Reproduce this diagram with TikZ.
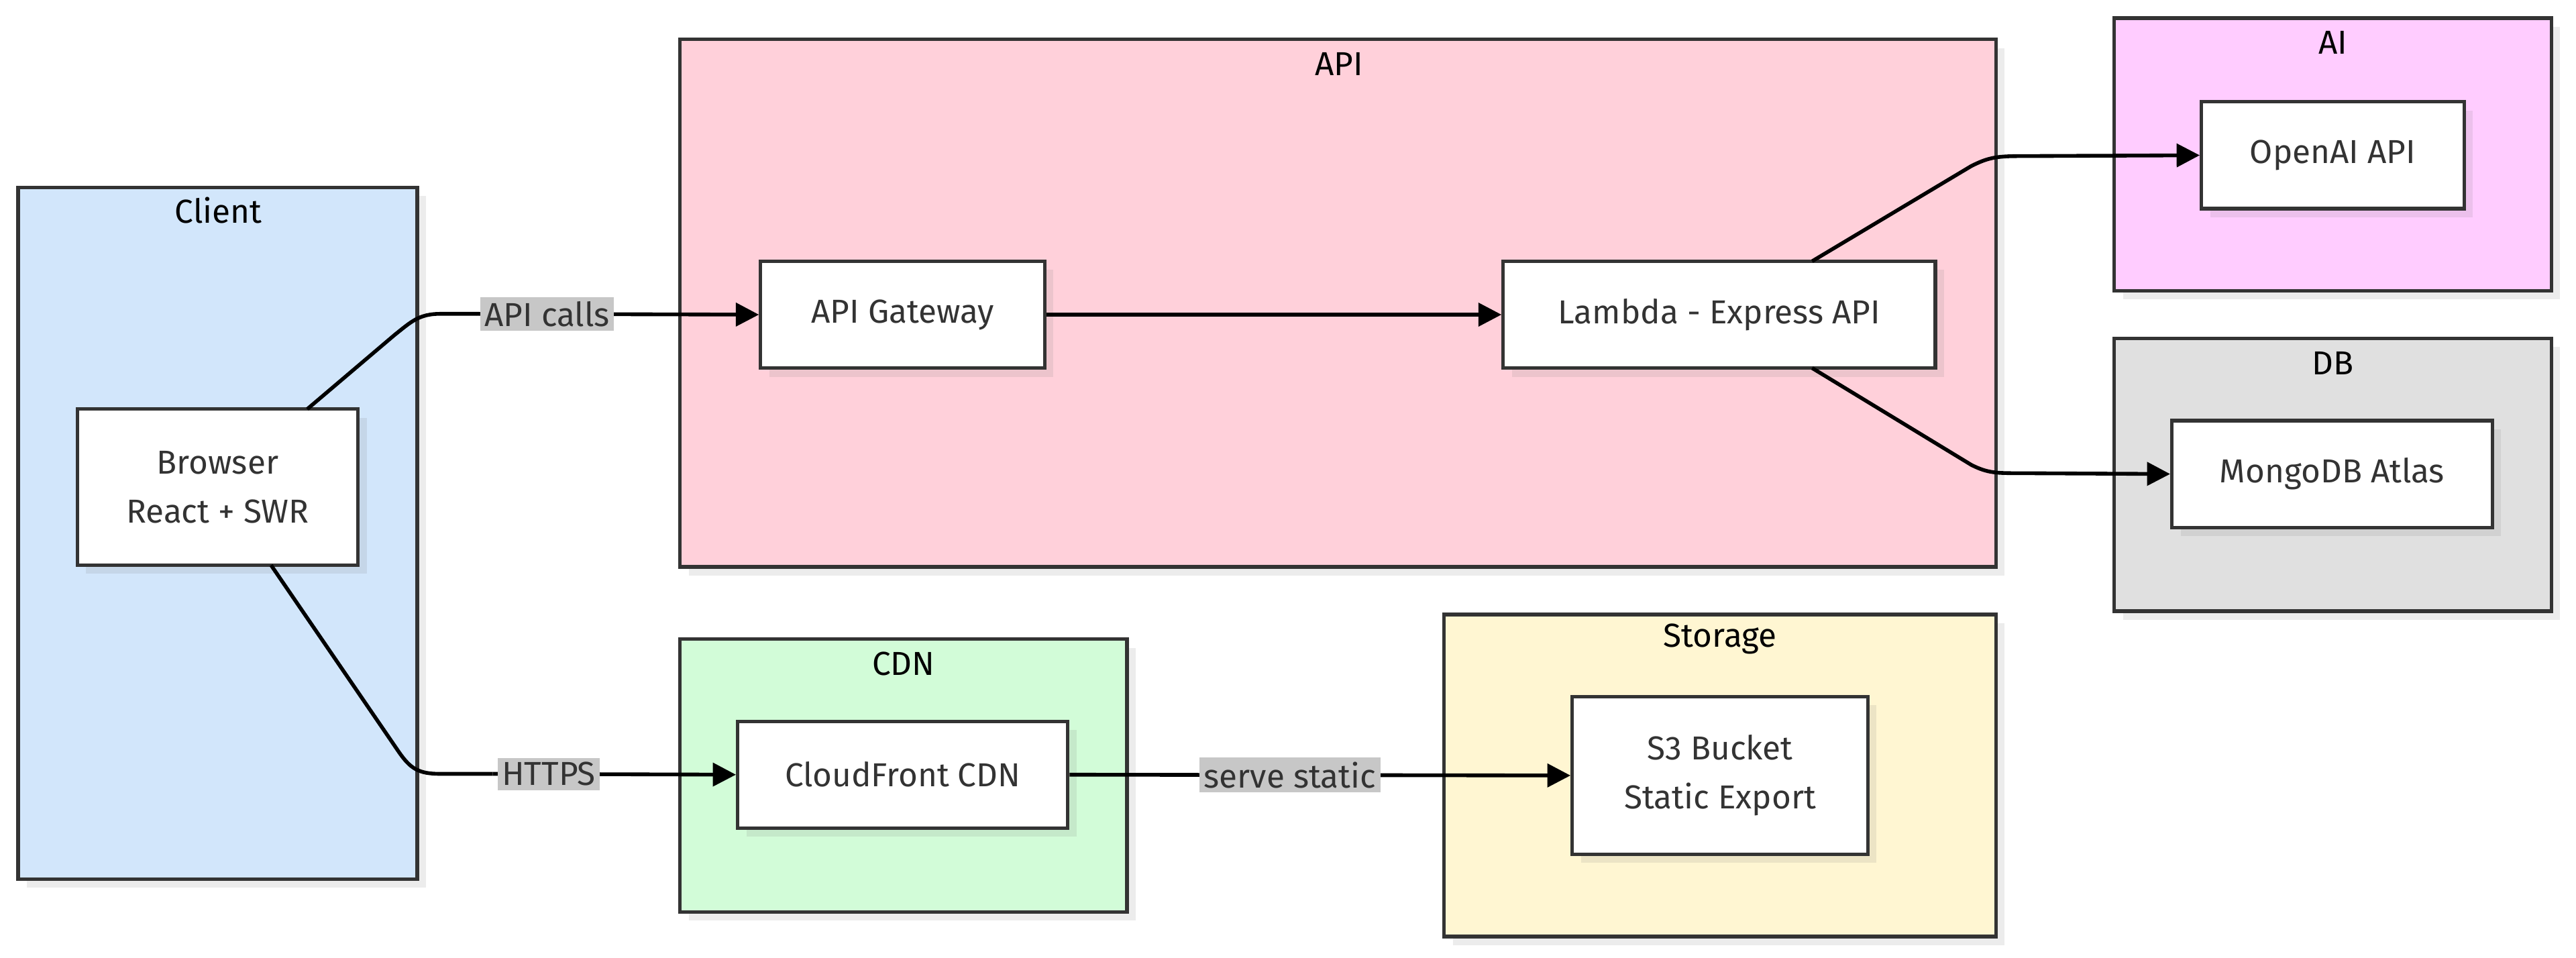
\documentclass[tikz,border=0pt]{standalone}
\usepackage{fontspec}
\setmainfont{Fira Sans}
\usetikzlibrary{positioning,shadows,arrows.meta}
\definecolor{clientbg}{HTML}{D2E6FB}
\definecolor{apibg}{HTML}{FFD0DA}
\definecolor{aibg}{HTML}{FFCCFF}
\definecolor{dbbg}{HTML}{E0E0E0}
\definecolor{cdnbg}{HTML}{D2FCD8}
\definecolor{storebg}{HTML}{FFF6D2}
\definecolor{edge}{HTML}{333333}
\tikzset{
  grp/.style={draw=edge,line width=1.2pt,drop shadow={opacity=0.15,shadow xshift=3pt,shadow yshift=-3pt}},
  box/.style={draw=edge,fill=white,line width=1.2pt,drop shadow={opacity=0.15,shadow xshift=3pt,shadow yshift=-3pt}},
  ttl/.style={font=\fontsize{11.5}{13}\selectfont,text=black},
  lbl/.style={font=\fontsize{11.5}{13}\selectfont,text=edge,align=center},
  elbl/.style={fill=black!22,font=\fontsize{11.5}{13}\selectfont,text=edge,inner sep=1.5pt},
  conn/.style={line width=1.3pt,black,-{Triangle[length=8pt,width=8pt]}}
}
\begin{document}
\begin{tikzpicture}[x=0.02cm,y=-0.02cm]
  \useasboundingbox (0,0) rectangle (1568,583);
  % groups
  \draw[grp,fill=clientbg] (11,114) rectangle (254,535);
  \node[ttl] (tclient) at (133,128) {Client};
  \draw[grp,fill=apibg] (414,24) rectangle (1215,345);
  \node[ttl] (tapi) at (815,39) {API};
  \draw[grp,fill=aibg] (1287,11) rectangle (1553,177);
  \node[ttl] (tai) at (1420,26) {AI};
  \draw[grp,fill=dbbg] (1287,206) rectangle (1553,372);
  \node[ttl] (tdb) at (1420,221) {DB};
  \draw[grp,fill=cdnbg] (414,389) rectangle (686,555);
  \node[ttl] (tcdn) at (550,404) {CDN};
  \draw[grp,fill=storebg] (879,374) rectangle (1215,570);
  \node[ttl] (tstore) at (1047,389) {Storage};
  % nodes
  \node[box,lbl,minimum width=171*0.02cm,minimum height=95*0.02cm] (browser) at (132.5,296.5) {Browser\\[4pt]React + SWR};
  \node[box,lbl,minimum width=173*0.02cm,minimum height=65*0.02cm] (gateway) at (549.5,191.5) {API Gateway};
  \node[box,lbl,minimum width=263*0.02cm,minimum height=65*0.02cm] (lambda) at (1046.5,191.5) {Lambda - Express API};
  \node[box,lbl,minimum width=160*0.02cm,minimum height=65*0.02cm] (openai) at (1420,94.5) {OpenAI API};
  \node[box,lbl,minimum width=195*0.02cm,minimum height=65*0.02cm] (mongo) at (1419.5,288.5) {MongoDB Atlas};
  \node[box,lbl,minimum width=201*0.02cm,minimum height=65*0.02cm] (cloudfront) at (549.5,471.5) {CloudFront CDN};
  \node[box,lbl,minimum width=180*0.02cm,minimum height=96*0.02cm] (s3) at (1047,472) {S3 Bucket\\[4pt]Static Export};
  % connectors
  \coordinate (b1) at (187,249);
  \coordinate (b2) at (165,344);
  \coordinate (l1) at (1103,159);
  \coordinate (l2) at (1103,224);
  \draw[line width=1.3pt] (b1) -- (240,204) .. controls (250,196) and (255,191) .. (268,191) -- (290,191);
  \draw[conn] (290,191) -- node[elbl,pos=0.25] {API calls} (gateway.west);
  \draw[line width=1.3pt] (b2) -- (243,458) .. controls (250,468) and (255,471) .. (268,471) -- (300,471);
  \draw[conn] (300,471) -- node[elbl,pos=0.23] {HTTPS} (cloudfront.west);
  \draw[conn] (cloudfront.east) -- node[elbl,pos=0.44] {serve static} (s3.west);
  \draw[conn] (gateway.east) -- (lambda.west);
  \draw[conn] (l1) -- (1200,101) .. controls (1210,96) and (1215,95) .. (1230,95) -- (openai.west);
  \draw[conn] (l2) -- (1200,283) .. controls (1210,288) and (1215,288) .. (1230,288) -- (mongo.west);
\end{tikzpicture}
\end{document}
